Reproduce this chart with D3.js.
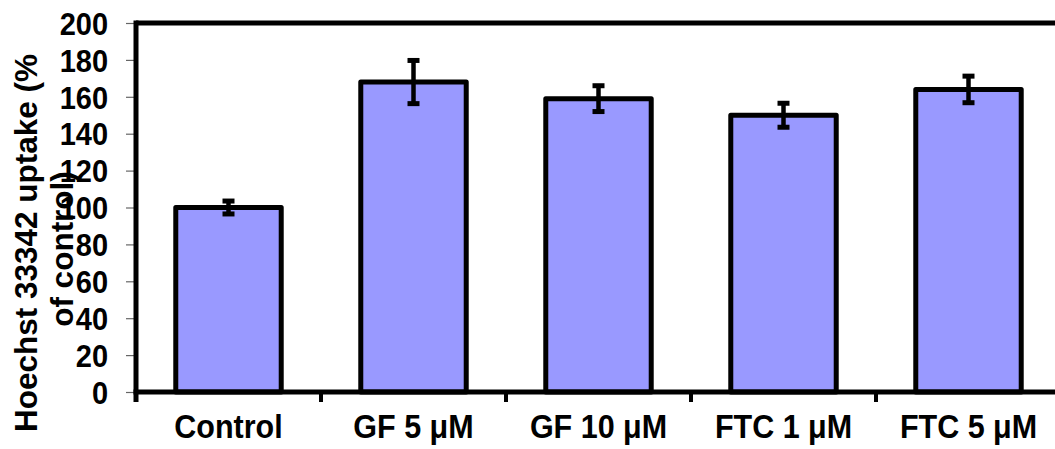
<!DOCTYPE html>
<html>
<head>
<meta charset="utf-8">
<script src="https://cdn.jsdelivr.net/npm/d3@7"></script>
<style>
  html, body { margin: 0; padding: 0; background: #fff; }
  svg { display: block; }
  text { font-family: "Liberation Sans", Arial, sans-serif; font-weight: bold; fill: #000; }
</style>
</head>
<body>
<svg id="chart" width="1055" height="449"></svg>
<script>
const categories = ["Control", "GF 5 μM", "GF 10 μM", "FTC 1 μM", "FTC 5 μM"];
const values = [100, 168, 159, 150, 164];
const errors = [3.5, 11.7, 7, 6.5, 7.2];
const yTicks = [0, 20, 40, 60, 80, 100, 120, 140, 160, 180, 200];
const yTitleLines = ["Hoechst 33342 uptake (%", "of control)"];

const svg = d3.select("#chart");
const pLeft = 136, pRight = 1061, pTop = 23, pBottom = 392;

const x = d3.scaleBand().domain(categories).range([pLeft, pRight]).paddingInner(0.43).paddingOuter(0.215);
const xb = d3.scaleLinear().domain([0, categories.length]).range([pLeft, pRight]);
const y = d3.scaleLinear().domain([0, 200]).range([pBottom, pTop]);

// Y ticks (thin, outside)
const yAxis = d3.axisLeft(y).tickValues(yTicks).tickSize(9).tickPadding(20).tickFormat(d3.format("d"));
const gy = svg.append("g").attr("transform", `translate(${pLeft - 1},0)`).call(yAxis);
gy.select(".domain").remove();
gy.selectAll(".tick line").attr("stroke", "#666").attr("stroke-width", 1.2);
gy.selectAll(".tick text").style("font-size", "29px").attr("dy", "0.36em").attr("x", -27)
  .attr("transform", "scale(1,1.08)").attr("y", 0);

// Plot frame top
svg.append("line").attr("x1", pLeft).attr("x2", pRight).attr("y1", pTop).attr("y2", pTop)
  .attr("stroke", "#000").attr("stroke-width", 5);

// Bars
svg.append("g").selectAll("rect").data(values).join("rect")
  .attr("x", (d, i) => x(categories[i]))
  .attr("width", x.bandwidth())
  .attr("y", d => y(d))
  .attr("height", d => y(0) - y(d))
  .attr("fill", "#9999FF")
  .attr("stroke", "#000")
  .attr("stroke-width", 5)
  .attr("stroke-linejoin", "round");

// Error bars
const eg = svg.append("g");
values.forEach((v, i) => {
  const cx = x(categories[i]) + x.bandwidth() / 2;
  const e = errors[i];
  eg.append("line").attr("x1", cx).attr("x2", cx).attr("y1", y(v + e)).attr("y2", y(v - e))
    .attr("stroke", "#000").attr("stroke-width", 4.5);
  [v + e, v - e].forEach(t => {
    eg.append("line").attr("x1", cx - 6).attr("x2", cx + 6).attr("y1", y(t)).attr("y2", y(t))
      .attr("stroke", "#000").attr("stroke-width", 5);
  });
});

// X axis ticks at band boundaries
const bounds = d3.range(0, categories.length + 1);
svg.append("g").selectAll("line").data(bounds).join("line")
  .attr("x1", d => xb(d)).attr("x2", d => xb(d))
  .attr("y1", pBottom).attr("y2", pBottom + 10)
  .attr("stroke", "#000").attr("stroke-width", 4);

// Left axis line and x axis line
svg.append("line").attr("x1", pLeft).attr("x2", pLeft).attr("y1", pTop - 2.5).attr("y2", pBottom + 10)
  .attr("stroke", "#000").attr("stroke-width", 5);
svg.append("line").attr("x1", pLeft - 2.5).attr("x2", pRight).attr("y1", pBottom).attr("y2", pBottom)
  .attr("stroke", "#000").attr("stroke-width", 5);

// X labels
svg.append("g").selectAll("text").data(categories).join("text")
  .attr("transform", d => `translate(${x(d) + x.bandwidth() / 2},438) scale(1,1.08)`)
  .attr("text-anchor", "middle")
  .style("font-size", "30.5px")
  .text(d => d);

// Y title
svg.append("text")
  .attr("transform", "translate(37,243) rotate(-90)")
  .attr("text-anchor", "middle")
  .style("font-size", "31.5px")
  .text(yTitleLines[0]);
svg.append("text")
  .attr("transform", "translate(73,249) rotate(-90)")
  .attr("text-anchor", "middle")
  .style("font-size", "31.5px")
  .text(yTitleLines[1]);
</script>
</body>
</html>
